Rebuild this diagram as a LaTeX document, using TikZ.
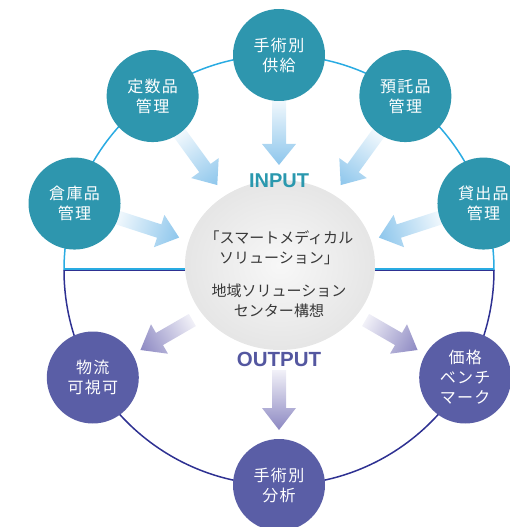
\documentclass[tikz,border=0pt]{standalone}
\usepackage{fontspec}
\setmainfont{Noto Sans CJK JP}
\newfontfamily\labelfont{Liberation Sans}
\usetikzlibrary{calc}

\definecolor{inteal}{HTML}{2E96AE}
\definecolor{outpurple}{HTML}{5A5EA6}
\definecolor{inlabel}{HTML}{2A98AE}
\definecolor{outlabel}{HTML}{5457A0}
\definecolor{inshaft}{HTML}{8DC6EC}
\definecolor{outshaft}{HTML}{8C88C2}
\definecolor{ringblue}{HTML}{29ABE2}
\definecolor{ringnavy}{HTML}{2E3192}
\definecolor{textgray}{HTML}{383838}

\begin{document}
\begin{tikzpicture}[x=1pt,y=1pt,
  inball/.style={circle,fill=inteal,minimum size=92pt,inner sep=0pt,
    text=white,align=center,
    font=\fontsize{16}{20}\selectfont\addfontfeatures{LetterSpace=8}},
  outball/.style={inball,fill=outpurple},
  centertext/.style={text=textgray,align=center,font=\fontsize{15}{20}\selectfont},
  inshade/.style={left color=inshaft,right color=inshaft!12},
  outshade/.style={left color=outshaft!12,right color=outshaft}]
\useasboundingbox (-279,-257) rectangle (231,270);

% ring, upper half light blue, lower half navy
\draw[ringblue,line width=1.5pt] (215,0) arc (0:180:215);
\draw[ringnavy,line width=1.5pt] (-215,0) arc (180:360:215);
\draw[ringblue,line width=1.2pt] (-215,0.9) -- (215,0.9);
\draw[ringnavy,line width=1.6pt] (-215,-0.6) -- (215,-0.6);

% centre ball
\shade[inner color=gray!6,outer color=gray!20] (1,5) ellipse [x radius=95,y radius=85];
\coordinate (ctr) at (0,0);

% fat arrows, input towards centre, output away from it
\foreach \ang in {18,54,90,126,162}
  \shade[inshade,transform canvas={rotate=\ang}] (105,0) -- (126,17) -- (126,7)
    -- (170,7) -- (170,-7) -- (126,-7) -- (126,-17) -- cycle;
\foreach \ang in {210,270,330}
  \shade[outshade,transform canvas={rotate=\ang}] (160,0) -- (138,17) -- (138,7)
    -- (100,7) -- (100,-7) -- (138,-7) -- (138,-17) -- cycle;

% input side
\node[inball] (supply) at (90:215) {手術別\\供給};
\node[inball] (fixed) at (126:215) {定数品\\管理};
\node[inball] (store) at (162:215) {倉庫品\\管理};
\node[inball] (consign) at (54:215) {預託品\\管理};
\node[inball] (loan) at (18:215) {貸出品\\管理};

% output side
\node[outball] (flow) at (210:215) {物流\\可視可};
\node[outball] (analysis) at (270:215) {手術別\\分析};
\node[outball] (bench) at (330:215) {価格\\ベンチ\\マーク};

% centre texts
\node[centertext] (smart) at (0,22) {「スマートメディカル\\ソリューション」};
\node[centertext] (region) at (0,-31) {地域ソリューション\\センター構想};
\node[font=\labelfont\bfseries\fontsize{20}{20}\selectfont,text=inlabel] (input) at (0,89.5) {INPUT};
\node[font=\labelfont\bfseries\fontsize{20.5}{20}\selectfont,text=outlabel] (output) at (0,-89) {OUTPUT};
\end{tikzpicture}
\end{document}
